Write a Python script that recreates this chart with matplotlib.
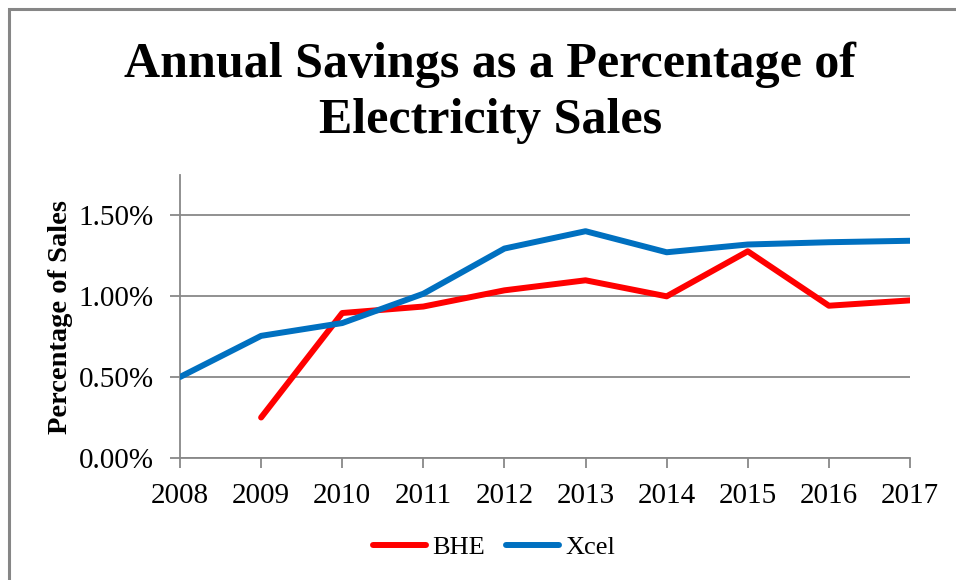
import matplotlib.pyplot as plt
from matplotlib.patches import Rectangle
from matplotlib.ticker import FuncFormatter

years = [2008, 2009, 2010, 2011, 2012, 2013, 2014, 2015, 2016, 2017]
bhe_years = [2009, 2010, 2011, 2012, 2013, 2014, 2015, 2016, 2017]
bhe = [0.25, 0.895, 0.935, 1.035, 1.097, 0.998, 1.276, 0.94, 0.973]
xcel = [0.50, 0.754, 0.833, 1.014, 1.293, 1.40, 1.27, 1.318, 1.332, 1.341]
yticks = [0.0, 0.5, 1.0, 1.5]

plt.rcParams['font.family'] = ['Liberation Serif', 'DejaVu Serif']

fig = plt.figure(figsize=(9.56, 5.8), dpi=100)
ax = fig.add_axes([180 / 956, 1 - 458 / 580, 730 / 956, 283 / 580])

grid_c = '#888888'
ax.plot(bhe_years, bhe, color='#ff0000', lw=4.3, solid_capstyle='round',
        solid_joinstyle='round', label='BHE', zorder=3)
ax.plot(years, xcel, color='#0070c0', lw=4.3, solid_capstyle='round',
        solid_joinstyle='round', label='Xcel', zorder=3)

ax.set_xlim(2008, 2017)
ax.set_ylim(0, 1.747)
ax.set_xticks(years)
ax.set_yticks(yticks)
ax.yaxis.set_major_formatter(FuncFormatter(lambda v, p: '%.2f%%' % v))
ax.grid(axis='y', color=grid_c, lw=1.3)
ax.set_axisbelow(True)
for s in ['top', 'right']:
    ax.spines[s].set_visible(False)
for s in ['left', 'bottom']:
    ax.spines[s].set_color(grid_c)
    ax.spines[s].set_linewidth(1.3)
ax.tick_params(axis='both', colors=grid_c, length=7, width=1.3,
               labelsize=21, labelcolor='black')
ax.tick_params(axis='x', pad=11)
ax.tick_params(axis='y', pad=12)

ax.set_ylabel('Percentage of Sales', fontsize=20.5, fontweight='bold')
ax.yaxis.set_label_coords(-107 / 730, 0.5)

fig.text(0.513, 1 - 93 / 580, 'Annual Savings as a Percentage of\nElectricity Sales',
         ha='center', va='center', fontsize=36, fontweight='bold',
         linespacing=1.3)

fig.legend(loc='center', bbox_to_anchor=(494 / 956, 1 - 547 / 580), ncol=2,
           frameon=False, fontsize=19, handlelength=2.0, handletextpad=0.25,
           columnspacing=0.8)

fig.patches.append(Rectangle((8.5 / 956, -0.1), 1.2, 1 - 9.5 / 580 + 0.1,
                             transform=fig.transFigure, fill=False,
                             edgecolor='#868686', lw=2.2))

fig.savefig('out.png', dpi=100)
